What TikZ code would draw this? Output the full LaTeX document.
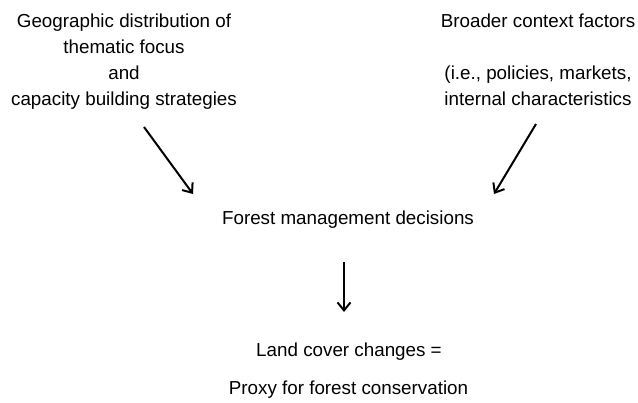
\documentclass[tikz,border=0pt]{standalone}
\usepackage{fontspec}
\setmainfont{Liberation Sans}
\usetikzlibrary{arrows.meta}
\begin{document}
\begin{tikzpicture}[x=1pt,y=-1pt,
  lbl/.style={inner sep=0pt,anchor=base,align=center,font=\fontsize{18.8}{26}\selectfont},
  conn/.style={line width=2pt,-{Straight Barb[length=8pt,width=13pt,line width=2pt]}}]
\useasboundingbox (0,0) rectangle (638,403);
\node[lbl] (geo) at (124,106) {Geographic distribution of\\thematic focus\\and\\capacity building strategies};
\node[lbl] (ctx) at (538,106) {Broader context factors\\[26pt](i.e., policies, markets,\\internal characteristics};
\node[lbl] (fmd) at (348,225) {Forest management decisions};
\node[lbl] (lcc) at (349,357) {Land cover changes =};
\node[lbl] (prx) at (348.5,395) {Proxy for forest conservation};
\coordinate (a1s) at (144,127);
\coordinate (a1e) at (193,194);
\coordinate (a2s) at (536,124);
\coordinate (a2e) at (494,194);
\coordinate (a3s) at (344,262);
\coordinate (a3e) at (344,312);
\draw[conn] (a1s) -- (a1e);
\draw[conn] (a2s) -- (a2e);
\draw[conn,line width=1.7pt] (a3s) -- (a3e);
\end{tikzpicture}
\end{document}
